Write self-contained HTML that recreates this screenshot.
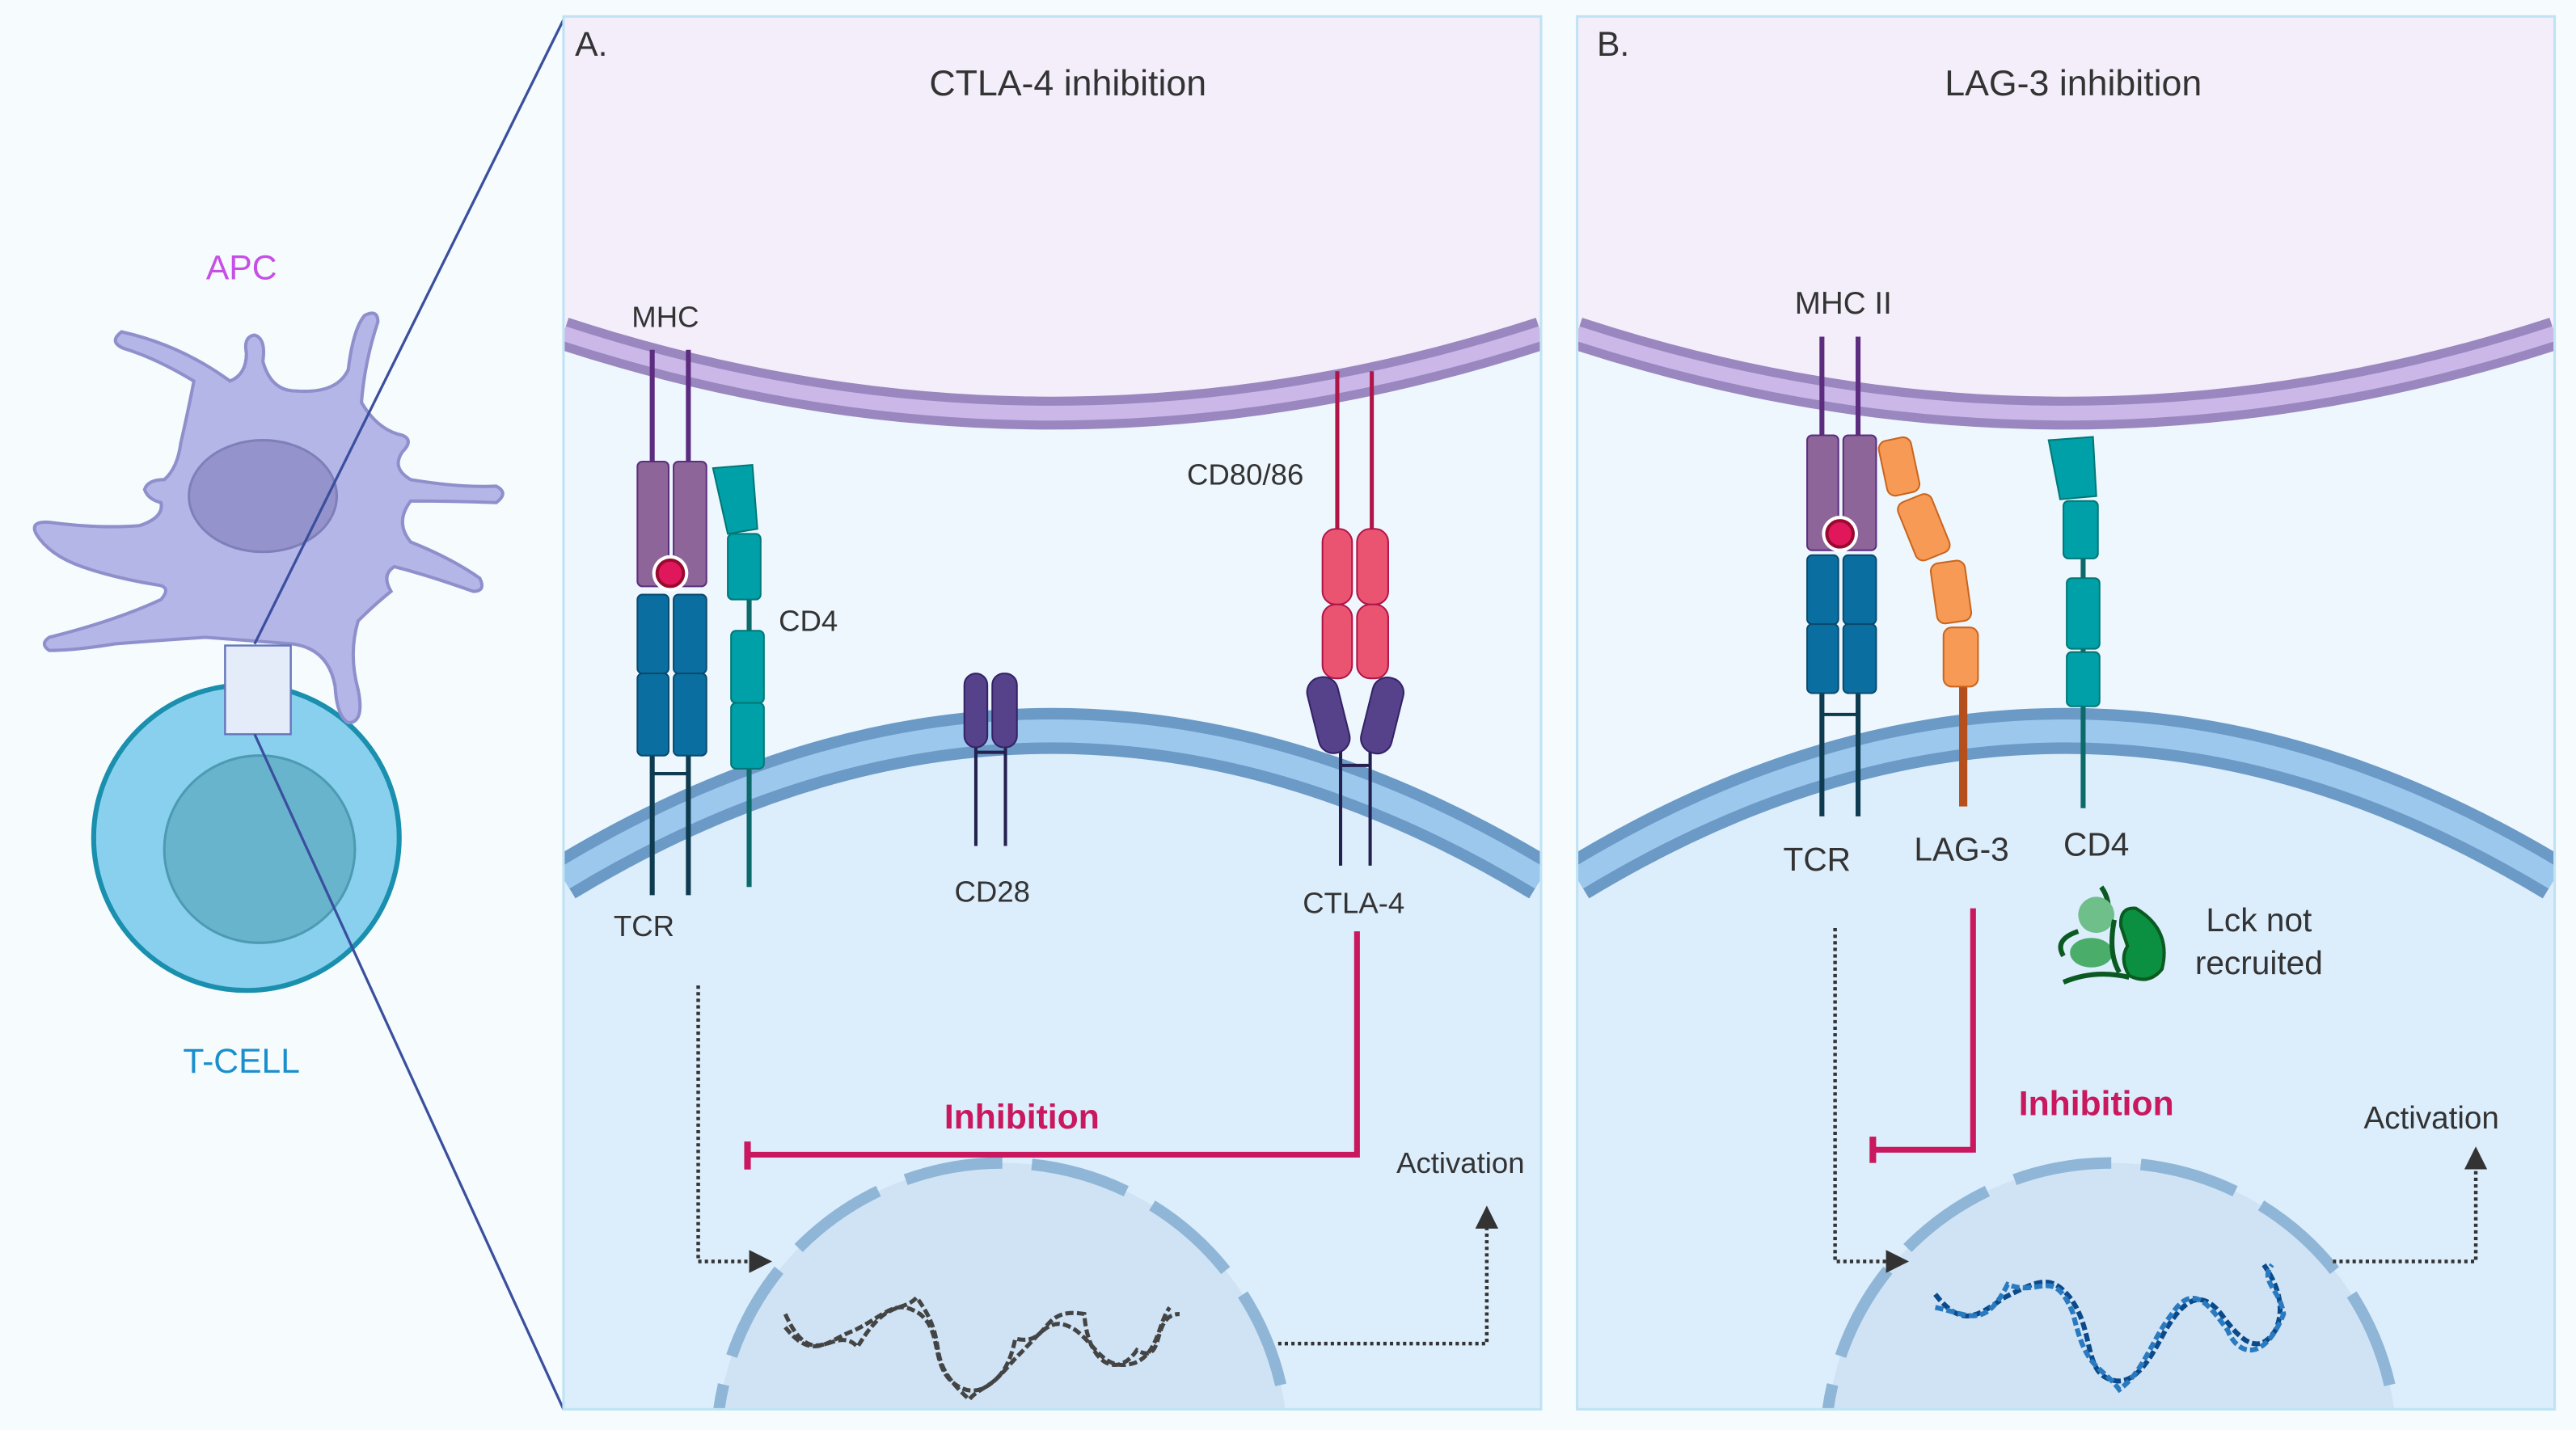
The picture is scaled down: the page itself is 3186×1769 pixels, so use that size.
<!DOCTYPE html>
<html><head><meta charset="utf-8"><style>
html,body{margin:0;padding:0;background:#f6fbfd;width:3186px;height:1769px;overflow:hidden}
svg{display:block}
text{font-family:"Liberation Sans",Arial,sans-serif;fill:#333}
</style></head><body>
<svg width="3186" height="1769" viewBox="0 0 1568 870.6" xmlns="http://www.w3.org/2000/svg">
<defs>
<clipPath id="cpA"><rect x="343" y="10" width="595" height="848"/></clipPath>
<clipPath id="cpB"><rect x="960" y="10" width="595" height="848"/></clipPath>
<g id="bg">
  <rect x="0" y="0" width="595" height="848" fill="#eef7fd"/>
  <path d="M0 0 H595 V193 Q297 290 0 193 Z" fill="#f3eefa"/>
  <path d="M0 193 Q297 290 595 193" fill="none" stroke="#9a87bf" stroke-width="20"/>
  <path d="M0 193 Q297 290 595 193" fill="none" stroke="#cbb8e8" stroke-width="9"/>
  <path d="M0 525 Q297 345 595 525 V848 H0 Z" fill="#dcedfc"/>
  <path d="M0 525 Q297 345 595 525" fill="none" stroke="#6b9ac6" stroke-width="28"/>
  <path d="M0 525 Q297 345 595 525" fill="none" stroke="#9dc8ee" stroke-width="14"/>
</g>
<marker id="ar" markerWidth="14" markerHeight="14" refX="6" refY="7" orient="auto" markerUnits="userSpaceOnUse" viewBox="0 0 14 14"><path d="M0 0 L14 7 L0 14 Z" fill="#333"/></marker>
</defs>
<rect width="1568" height="870" fill="#f6fbfd"/>

<!-- Left cells -->
<circle cx="150" cy="510" r="93" fill="#88d0ee" stroke="#1a8fae" stroke-width="3"/>
<ellipse cx="158" cy="517" rx="58" ry="57" fill="#68b4cc" stroke="#4d9ab3" stroke-width="1.5"/>
<path d="M118 232 Q95 218 75 212 Q66 208 74 202 Q110 210 140 232 Q150 228 150 215 Q148 205 155 204 Q162 206 160 220 Q165 238 180 238 Q205 240 212 225 Q215 200 222 192 Q230 188 230 196 Q222 220 220 245 Q230 262 245 265 Q252 268 245 275 Q238 285 250 292 Q280 297 302 296 Q310 300 302 306 Q275 305 250 305 Q240 318 250 330 Q275 340 292 352 Q296 360 288 360 Q260 350 240 345 Q232 350 238 360 Q228 368 218 378 Q212 398 218 420 Q222 440 212 440 Q205 436 204 418 Q200 395 178 392 Q150 390 125 388 Q95 390 70 392 Q45 396 30 396 Q24 392 30 388 Q70 378 98 365 Q105 357 95 356 Q70 352 50 345 Q30 338 22 325 Q18 317 30 318 Q60 322 85 320 Q100 315 98 306 Q90 304 88 298 Q90 292 100 292 Q108 285 110 270 Q115 248 118 232 Z" fill="#b5b6e8" stroke="#8f8fcc" stroke-width="2"/>
<ellipse cx="160" cy="302" rx="45" ry="34" fill="#9593cb" stroke="#7f7fb9" stroke-width="1.5"/>
<rect x="137" y="393" width="40" height="54" fill="#e4ecfa" stroke="#6677bb" stroke-width="1.2"/>
<line x1="155" y1="392" x2="343" y2="12" stroke="#3a4f9e" stroke-width="1.6"/>
<line x1="155" y1="447" x2="343" y2="858" stroke="#3a4f9e" stroke-width="1.6"/>
<text x="147" y="170" font-size="21" text-anchor="middle" style="fill:#c64fe6">APC</text>
<text x="147" y="653" font-size="21" text-anchor="middle" style="fill:#1a8fcc">T-CELL</text>

<!-- Panel A -->
<g clip-path="url(#cpA)"><use href="#bg" x="343" y="10"/>
  <circle cx="610" cy="882" r="174" fill="#cfe3f5" stroke="#8fb6d6" stroke-width="7" stroke-dasharray="60 18" stroke-dashoffset="20"/>
</g>
<rect x="343" y="10" width="595" height="848" fill="none" stroke="#bfe3f5" stroke-width="1.5"/>
<text x="350" y="34" font-size="21">A.</text>
<text x="650" y="58" font-size="22" text-anchor="middle">CTLA-4 inhibition</text>

<line x1="397" y1="213" x2="397" y2="283" stroke="#5c2d7f" stroke-width="3"/>
<line x1="419" y1="213" x2="419" y2="283" stroke="#5c2d7f" stroke-width="3"/>
<rect x="388" y="281" width="19" height="76" rx="3" fill="#8d6599" stroke="#5c2d7f"/>
<rect x="410" y="281" width="20" height="76" rx="3" fill="#8d6599" stroke="#5c2d7f"/>
<circle cx="408" cy="349" r="11" fill="#fff"/>
<circle cx="408" cy="349" r="8" fill="#e0185b" stroke="#9a0a30" stroke-width="2"/>
<line x1="397" y1="455" x2="397" y2="545" stroke="#0e3b4f" stroke-width="3"/>
<line x1="419" y1="455" x2="419" y2="545" stroke="#0e3b4f" stroke-width="3"/>
<line x1="397" y1="471" x2="419" y2="471" stroke="#0e3b4f" stroke-width="2"/>
<rect x="388" y="362" width="19" height="48" rx="3" fill="#0a6fa0" stroke="#0a4a6e"/>
<rect x="410" y="362" width="20" height="48" rx="3" fill="#0a6fa0" stroke="#0a4a6e"/>
<rect x="388" y="410" width="19" height="50" rx="3" fill="#0a6fa0" stroke="#0a4a6e"/>
<rect x="410" y="410" width="20" height="50" rx="3" fill="#0a6fa0" stroke="#0a4a6e"/>
<line x1="456" y1="360" x2="456" y2="540" stroke="#0c6a6a" stroke-width="3"/>
<path d="M434 285 L458 283 L461 322 L443 325 Z" fill="#00a0a8" stroke="#077"/>
<rect x="443" y="325" width="20" height="40" rx="3" fill="#00a0a8" stroke="#077"/>
<rect x="445" y="384" width="20" height="44" rx="3" fill="#00a0a8" stroke="#077"/>
<rect x="445" y="428" width="20" height="40" rx="3" fill="#00a0a8" stroke="#077"/>
<text x="405" y="199" font-size="18" text-anchor="middle">MHC</text>
<text x="474" y="384" font-size="18">CD4</text>
<text x="392" y="570" font-size="18" text-anchor="middle">TCR</text>
<line x1="594" y1="450" x2="594" y2="515" stroke="#24204f" stroke-width="2"/>
<line x1="612" y1="450" x2="612" y2="515" stroke="#24204f" stroke-width="2"/>
<line x1="594" y1="458" x2="612" y2="458" stroke="#24204f" stroke-width="2"/>
<rect x="587" y="410" width="14" height="45" rx="7" fill="#55428a" stroke="#332266"/>
<rect x="604" y="410" width="15" height="45" rx="7" fill="#55428a" stroke="#332266"/>
<text x="604" y="549" font-size="18" text-anchor="middle">CD28</text>
<line x1="814" y1="226" x2="814" y2="325" stroke="#b01548" stroke-width="2.5"/>
<line x1="835" y1="226" x2="835" y2="325" stroke="#b01548" stroke-width="2.5"/>
<rect x="805" y="322" width="18" height="46" rx="8" fill="#ea5470" stroke="#b01548"/>
<rect x="826" y="322" width="19" height="46" rx="8" fill="#ea5470" stroke="#b01548"/>
<rect x="805" y="368" width="18" height="45" rx="8" fill="#ea5470" stroke="#b01548"/>
<rect x="826" y="368" width="19" height="45" rx="8" fill="#ea5470" stroke="#b01548"/>
<line x1="816" y1="455" x2="816" y2="527" stroke="#24204f" stroke-width="2"/>
<line x1="834" y1="455" x2="834" y2="527" stroke="#24204f" stroke-width="2"/>
<line x1="816" y1="466" x2="834" y2="466" stroke="#24204f" stroke-width="2"/>
<rect x="799" y="412" width="19" height="47" rx="9" fill="#55428a" stroke="#332266" transform="rotate(-14 808 435)"/>
<rect x="832" y="412" width="19" height="47" rx="9" fill="#55428a" stroke="#332266" transform="rotate(14 841 435)"/>
<text x="758" y="295" font-size="18" text-anchor="middle">CD80/86</text>
<text x="824" y="556" font-size="18" text-anchor="middle">CTLA-4</text>
<path d="M826 567 V703 H455" fill="none" stroke="#c9185e" stroke-width="3.5"/>
<line x1="455" y1="695" x2="455" y2="712" stroke="#c9185e" stroke-width="4"/>
<text x="622" y="687" font-size="21" font-weight="bold" text-anchor="middle" style="fill:#c9185e">Inhibition</text>
<path d="M425 600 V768 H462" fill="none" stroke="#333" stroke-width="2.2" stroke-dasharray="2 2" marker-end="url(#ar)"/>
<path d="M778 818 H905 V742" fill="none" stroke="#333" stroke-width="2.2" stroke-dasharray="2 2" marker-end="url(#ar)"/>
<text x="889" y="714" font-size="18" text-anchor="middle">Activation</text>
<g fill="none" stroke="#444" stroke-width="2.5" stroke-dasharray="5 2">
<path d="M478 808 C495 830 505 815 520 810 C540 800 545 790 560 800 C575 812 565 835 585 845 C600 852 610 835 620 825 C635 810 640 800 655 810 C668 820 672 835 690 830 C705 825 705 805 712 796" />
<path d="M478 800 C495 838 508 805 522 820 C540 790 548 800 558 790 C580 820 560 825 590 852 C598 842 612 845 618 815 C640 820 632 795 660 800 C662 830 680 840 692 822 C710 832 700 800 718 800" />
</g>

<!-- Panel B -->
<g clip-path="url(#cpB)"><use href="#bg" x="960" y="10"/>
  <circle cx="1285" cy="882" r="174" fill="#cfe3f5" stroke="#8fb6d6" stroke-width="7" stroke-dasharray="60 18" stroke-dashoffset="20"/>
</g>
<rect x="960" y="10" width="595" height="848" fill="none" stroke="#bfe3f5" stroke-width="1.5"/>
<text x="972" y="34" font-size="21">B.</text>
<text x="1262" y="58" font-size="22" text-anchor="middle">LAG-3 inhibition</text>
<text x="1122" y="191" font-size="19" text-anchor="middle">MHC II</text>
<line x1="1109" y1="205" x2="1109" y2="268" stroke="#5c2d7f" stroke-width="3"/>
<line x1="1131" y1="205" x2="1131" y2="268" stroke="#5c2d7f" stroke-width="3"/>
<rect x="1100" y="265" width="19" height="70" rx="3" fill="#8d6599" stroke="#5c2d7f"/>
<rect x="1122" y="265" width="20" height="70" rx="3" fill="#8d6599" stroke="#5c2d7f"/>
<circle cx="1120" cy="325" r="11" fill="#fff"/>
<circle cx="1120" cy="325" r="8" fill="#e0185b" stroke="#9a0a30" stroke-width="2"/>
<line x1="1109" y1="415" x2="1109" y2="497" stroke="#0e3b4f" stroke-width="3"/>
<line x1="1131" y1="415" x2="1131" y2="497" stroke="#0e3b4f" stroke-width="3"/>
<line x1="1109" y1="435" x2="1131" y2="435" stroke="#0e3b4f" stroke-width="2"/>
<rect x="1100" y="338" width="19" height="42" rx="3" fill="#0a6fa0" stroke="#0a4a6e"/>
<rect x="1122" y="338" width="20" height="42" rx="3" fill="#0a6fa0" stroke="#0a4a6e"/>
<rect x="1100" y="380" width="19" height="42" rx="3" fill="#0a6fa0" stroke="#0a4a6e"/>
<rect x="1122" y="380" width="20" height="42" rx="3" fill="#0a6fa0" stroke="#0a4a6e"/>
<line x1="1195" y1="415" x2="1195" y2="491" stroke="#b5501d" stroke-width="5"/>
<rect x="1146" y="267" width="20" height="34" rx="5" fill="#f79a55" stroke="#c9651e" transform="rotate(-12 1156 284)"/>
<rect x="1160" y="302" width="22" height="38" rx="5" fill="#f79a55" stroke="#c9651e" transform="rotate(-22 1171 321)"/>
<rect x="1177" y="342" width="21" height="37" rx="5" fill="#f79a55" stroke="#c9651e" transform="rotate(-8 1187 360)"/>
<rect x="1183" y="382" width="21" height="36" rx="5" fill="#f79a55" stroke="#c9651e"/>
<line x1="1268" y1="330" x2="1268" y2="492" stroke="#0c6a6a" stroke-width="3"/>
<path d="M1247 268 L1274 266 L1276 302 L1254 304 Z" fill="#00a0a8" stroke="#077"/>
<rect x="1256" y="305" width="21" height="35" rx="3" fill="#00a0a8" stroke="#077"/>
<rect x="1258" y="352" width="20" height="43" rx="3" fill="#00a0a8" stroke="#077"/>
<rect x="1258" y="397" width="20" height="33" rx="3" fill="#00a0a8" stroke="#077"/>
<text x="1106" y="530" font-size="20" text-anchor="middle">TCR</text>
<text x="1194" y="524" font-size="20" text-anchor="middle">LAG-3</text>
<text x="1276" y="521" font-size="20" text-anchor="middle">CD4</text>
<path d="M1279 540 Q1285 548 1283 560" fill="none" stroke="#0a5a22" stroke-width="3"/>
<path d="M1291 564 Q1290 552 1300 553 Q1322 566 1316 590 Q1308 600 1296 594 Q1290 584 1295 576 Z" fill="#0a9040" stroke="#0a5a22" stroke-width="2"/>
<ellipse cx="1276" cy="557" rx="11" ry="11" fill="#6fbf8a"/>
<ellipse cx="1273" cy="580" rx="13" ry="9" fill="#4aae6a"/>
<path d="M1265 567 Q1250 572 1256 582 M1256 598 Q1275 590 1296 595 M1287 560 Q1283 580 1290 592" fill="none" stroke="#0a5a22" stroke-width="3"/>
<text x="1375" y="567" font-size="20" text-anchor="middle">Lck not</text>
<text x="1375" y="593" font-size="20" text-anchor="middle">recruited</text>
<path d="M1201 553 V700 H1140" fill="none" stroke="#c9185e" stroke-width="3.5"/>
<line x1="1140" y1="692" x2="1140" y2="708" stroke="#c9185e" stroke-width="4"/>
<text x="1276" y="679" font-size="21" font-weight="bold" text-anchor="middle" style="fill:#c9185e">Inhibition</text>
<path d="M1117 565 V768 H1154" fill="none" stroke="#333" stroke-width="2.2" stroke-dasharray="2 2" marker-end="url(#ar)"/>
<path d="M1420 768 H1507 V706" fill="none" stroke="#333" stroke-width="2.2" stroke-dasharray="2 2" marker-end="url(#ar)"/>
<text x="1480" y="687" font-size="19" text-anchor="middle">Activation</text>
<g fill="none" stroke-width="3" stroke-dasharray="5 2">
<path d="M1178 788 C1195 810 1205 800 1220 790 C1240 780 1248 775 1260 790 C1275 810 1268 835 1285 840 C1300 845 1310 825 1318 810 C1330 790 1340 785 1352 800 C1365 818 1375 825 1385 810 C1392 795 1385 780 1378 770" stroke="#0a4a8a"/>
<path d="M1178 796 C1198 800 1208 810 1222 782 C1242 790 1250 770 1262 800 C1270 835 1278 830 1290 846 C1305 835 1310 815 1322 800 C1335 780 1345 795 1356 810 C1362 825 1378 830 1390 800 C1388 785 1375 780 1383 770" stroke="#2a7ac0"/>
</g>
</svg>
</body></html>
